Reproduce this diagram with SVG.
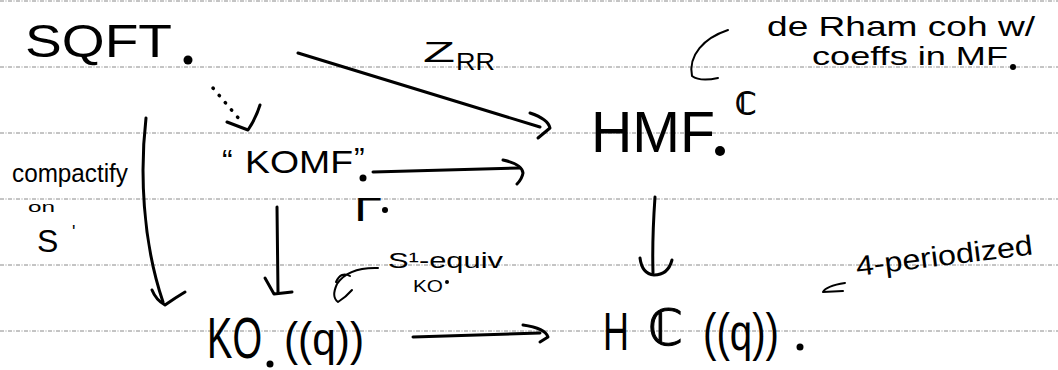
<svg xmlns="http://www.w3.org/2000/svg" width="1058" height="370" viewBox="0 0 1058 370">
<style>
.rule{stroke:#8a8a8a;stroke-width:1;stroke-dasharray:4 1.5 1 1.5;fill:none}
.ink{stroke:#000;stroke-width:3;fill:none;stroke-linecap:round;stroke-linejoin:round}
.thin{stroke:#000;stroke-width:2;fill:none;stroke-linecap:round;stroke-linejoin:round}
.dash{stroke:#000;stroke-width:3.5;fill:none;stroke-linecap:round;stroke-dasharray:0.5 9}
text{font-family:"Liberation Sans","DejaVu Sans",sans-serif;fill:#000}
.bb{font-family:"DejaVu Sans","Liberation Sans",sans-serif;stroke:#000;stroke-width:1}
</style>
<rect width="1058" height="370" fill="#fff"/>
<g id="paper">
<line class="rule" x1="0" y1="1" x2="1058" y2="1"/>
<line class="rule" x1="0" y1="67" x2="1058" y2="67"/>
<line class="rule" x1="0" y1="133" x2="1058" y2="133"/>
<line class="rule" x1="0" y1="199" x2="1058" y2="199"/>
<line class="rule" x1="0" y1="265" x2="1058" y2="265"/>
<line class="rule" x1="0" y1="331" x2="1058" y2="331"/>
</g>
<g id="connectors">
<path class="ink" d="M298 53 L540 127"/>
<path class="ink" d="M530 113 Q548 119 550 128 L538 138"/>
<path class="dash" d="M213 88 L240 120"/>
<path class="ink" d="M227 122 L248 130 Q256 118 260 105"/>
<path class="ink" d="M373 172 L520 168"/>
<path class="ink" d="M503 160 Q522 164 523 173 Q522 179 517 184"/>
<path class="ink" d="M146 118 C140 170 142 240 163 302"/>
<path class="ink" d="M152 290 Q156 300 165 305 Q175 298 185 292"/>
<path class="ink" d="M277 207 L278 292"/>
<path class="ink" d="M265 278 L274 294 L292 292"/>
<path class="ink" d="M655 197 Q652 240 653 273"/>
<path class="ink" d="M640 258 Q642 274 654 275 Q668 275 672 260"/>
<path class="ink" d="M413 337 L540 333"/>
<path class="ink" d="M523 325 Q545 328 548 337 L540 342"/>
<path class="thin" d="M728 30 C704 38 688 55 692 76 Q700 82 718 78"/>
<path class="thin" d="M378 268 Q348 267 337 284 Q331 297 338 302 Q346 297 352 290 M336 282 Q341 271 350 276"/>
<path class="thin" d="M845 283 Q826 286 823 292 L843 291"/>
</g>
<g id="sqft">
<text x="25" y="57" font-size="47" textLength="147" lengthAdjust="spacingAndGlyphs">SQFT</text>
<circle cx="188" cy="60" r="4.5"/>
</g>
<g id="zrr-label">
<text x="423" y="62" font-size="30" textLength="32" lengthAdjust="spacingAndGlyphs">Z</text>
<text x="456" y="70" font-size="24" textLength="39" lengthAdjust="spacingAndGlyphs">RR</text>
</g>
<g id="hmf">
<text x="591" y="152" font-size="58" textLength="124" lengthAdjust="spacingAndGlyphs">HMF</text>
<circle cx="720" cy="151" r="5"/>
<text class="bb" x="735" y="114" font-size="30">ℂ</text>
</g>
<g id="derham-note">
<text x="767" y="36" font-size="28" textLength="268" lengthAdjust="spacingAndGlyphs">de Rham coh w/</text>
<text x="812" y="65" font-size="25" textLength="196" lengthAdjust="spacingAndGlyphs">coeffs in MF</text>
<circle cx="1013" cy="67" r="3"/>
</g>
<g id="komf">
<text x="222" y="172" font-size="32">“</text>
<text x="245" y="173" font-size="32" textLength="108" lengthAdjust="spacingAndGlyphs">KOMF</text>
<text x="354" y="170" font-size="32">”</text>
<circle cx="363" cy="178" r="3.5"/>
<text x="354" y="221" font-size="34" textLength="28" lengthAdjust="spacingAndGlyphs">Γ</text>
<circle cx="385" cy="210" r="3"/>
</g>
<g id="compactify-label">
<text x="12" y="182" font-size="26" textLength="116" lengthAdjust="spacingAndGlyphs">compactify</text>
<text x="28" y="212" font-size="15" textLength="27" lengthAdjust="spacingAndGlyphs">on</text>
<text x="37" y="252" font-size="32">S</text>
<text x="72" y="238" font-size="18">'</text>
</g>
<g id="ko">
<text x="207" y="358" font-size="57" textLength="55" lengthAdjust="spacingAndGlyphs">KO</text>
<circle cx="270" cy="364" r="3.5"/>
<text x="284" y="355" font-size="46" textLength="80" lengthAdjust="spacingAndGlyphs">((q))</text>
</g>
<g id="equiv-note">
<text x="388" y="268" font-size="22" textLength="115" lengthAdjust="spacingAndGlyphs">S¹-equiv</text>
<text x="413" y="292" font-size="17" textLength="30" lengthAdjust="spacingAndGlyphs">KO</text>
<circle cx="447" cy="282" r="2"/>
</g>
<g id="hc">
<text x="603" y="350" font-size="53" textLength="26" lengthAdjust="spacingAndGlyphs">H</text>
<text class="bb" x="648" y="345" font-size="50">ℂ</text>
<text x="703" y="350" font-size="52" textLength="76" lengthAdjust="spacingAndGlyphs">((q))</text>
<circle cx="800" cy="347" r="3.5"/>
</g>
<g id="periodized-note">
<text x="857" y="276" font-size="28" textLength="178" lengthAdjust="spacingAndGlyphs" transform="rotate(-7 857 276)">4-periodized</text>
</g>
</svg>
